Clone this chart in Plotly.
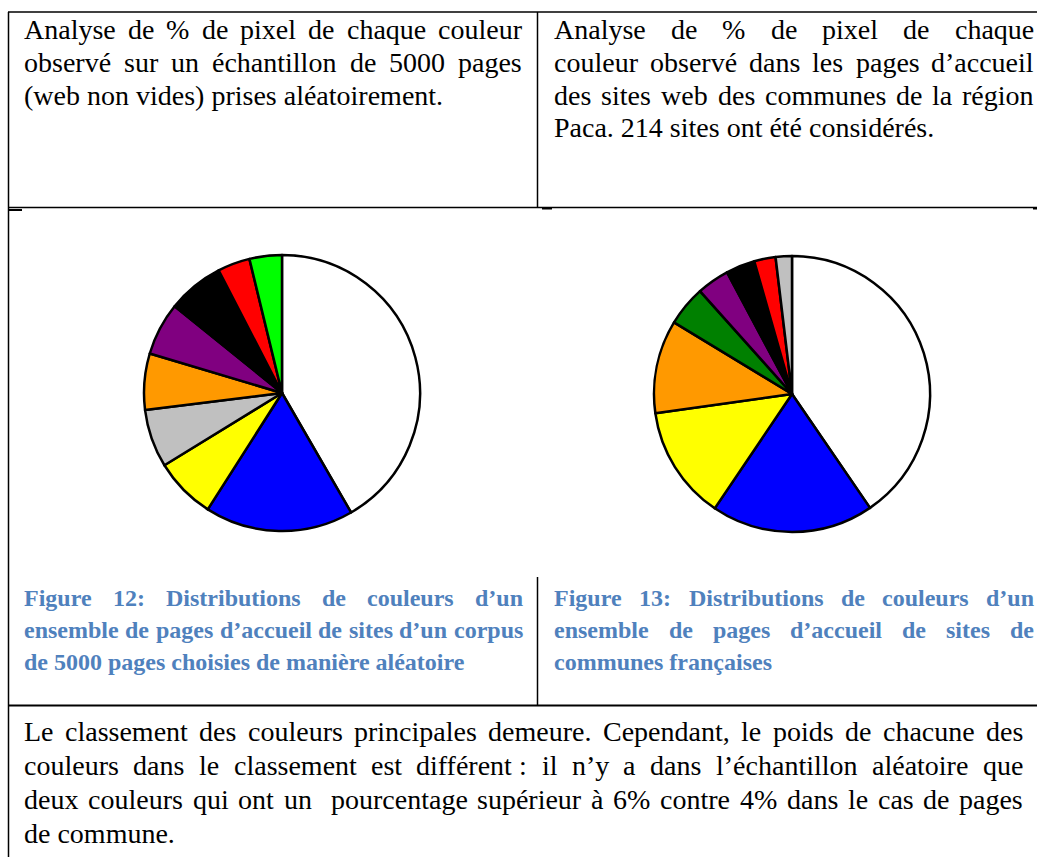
import plotly.graph_objects as go

W, H = 1037, 857

# -----------------------------------------------------------
# données : % de pixels par couleur (lu sur les camemberts)
# -----------------------------------------------------------

couleurs_1 = ["blanc", "bleu", "jaune", "gris", "orange", "violet", "noir", "rouge", "vert"]
valeurs_1 = [41.7, 17.4, 7.2, 6.8, 6.6, 6.2, 6.6, 3.8, 3.8]
teintes_1 = ["#ffffff", "#0000ff", "#ffff00", "#c0c0c0", "#ff9900",
             "#800080", "#000000", "#ff0000", "#00ff00"]

couleurs_2 = ["blanc", "bleu", "jaune", "orange", "vert", "violet", "noir", "rouge", "gris"]
valeurs_2 = [40.4, 19.0, 13.3, 10.9, 4.7, 3.8, 3.4, 2.5, 1.9]
teintes_2 = ["#ffffff", "#0000ff", "#ffff00", "#ff9900", "#008000",
             "#800080", "#000000", "#ff0000", "#c0c0c0"]

texte_gauche = [
    "Analyse de % de pixel de chaque couleur",
    "observé sur un échantillon de 5000 pages",
    "(web non vides) prises aléatoirement.",
]
texte_droite = [
    "Analyse de % de pixel de chaque",
    "couleur observé dans les pages d’accueil",
    "des sites web des communes de la région",
    "Paca. 214 sites ont été considérés.",
]
legende_gauche = [
    "Figure 12: Distributions de couleurs d’un",
    "ensemble de pages d’accueil de sites d’un corpus",
    "de 5000 pages choisies de manière aléatoire",
]
legende_droite = [
    "Figure 13: Distributions de couleurs d’un",
    "ensemble de pages d’accueil de sites de",
    "communes françaises",
]
texte_bas = [
    "Le classement des couleurs principales demeure. Cependant, le poids de chacune des",
    "couleurs dans le classement est différent\u00a0: il n’y a dans l’échantillon aléatoire que",
    "deux couleurs qui ont un  pourcentage supérieur à 6% contre 4% dans le cas de pages",
    "de commune.",
]

# -----------------------------------------------------------
# chasses Times (1/1000 em) pour justifier le texte mot à mot
# -----------------------------------------------------------

TIMES_R = dict(zip("abcdefghijklmnopqrstuvwxyz",
                   [444, 500, 444, 500, 444, 333, 500, 500, 278, 278, 500, 278, 778,
                    500, 500, 500, 500, 333, 389, 278, 500, 500, 722, 500, 500, 444]))
TIMES_R.update(dict(zip("ABCDEFGHIJKLMNOPQRSTUVWXYZ",
                        [722, 667, 667, 722, 611, 556, 722, 722, 333, 389, 722, 611, 889,
                         722, 722, 556, 722, 667, 556, 611, 722, 722, 944, 722, 722, 611])))
TIMES_R.update({" ": 250, "\u00a0": 250, "%": 833, "(": 333, ")": 333, ".": 250, ",": 250,
                ":": 278, "’": 333, "é": 444, "è": 444, "à": 444, "ç": 444})
for d in "0123456789":
    TIMES_R[d] = 500

TIMES_B = dict(zip("abcdefghijklmnopqrstuvwxyz",
                   [500, 556, 444, 556, 444, 333, 500, 556, 278, 333, 556, 278, 833,
                    556, 500, 556, 556, 444, 389, 333, 556, 500, 722, 500, 500, 444]))
TIMES_B.update(dict(zip("ABCDEFGHIJKLMNOPQRSTUVWXYZ",
                        [722, 667, 722, 722, 667, 611, 778, 778, 389, 500, 778, 667, 944,
                         722, 778, 611, 778, 722, 556, 667, 722, 722, 1000, 722, 722, 667])))
TIMES_B.update({" ": 250, "\u00a0": 250, "%": 1000, "(": 333, ")": 333, ".": 250, ",": 250,
                ":": 333, "’": 333, "é": 444, "è": 444, "à": 444, "ç": 444})
for d in "0123456789":
    TIMES_B[d] = 500

POLICE = "Liberation Serif, Times New Roman, serif"


def px(x):
    return x / W


def py(y):
    return 1 - y / H


def largeur(mot, gras, taille):
    table = TIMES_B if gras else TIMES_R
    return sum(table.get(c, 500) for c in mot) * taille / 1000


def mot(fig, texte, x, centre, taille, gras, couleur):
    if gras:
        texte = "<b>" + texte + "</b>"
    fig.add_annotation(
        x=px(x - 1), y=py(centre),
        xref="paper", yref="paper", xanchor="left", yanchor="middle",
        text=texte, showarrow=False,
        font=dict(family=POLICE, size=taille, color=couleur)
    )


def paragraphe(fig, lignes, x0, x1, centre0, pas, taille, gras=False, couleur="black"):
    for i, ligne in enumerate(lignes):
        centre = centre0 + i * pas
        if i == len(lignes) - 1:
            mot(fig, ligne, x0, centre, taille, gras, couleur)
            continue
        mots = ligne.split(" ")
        total = sum(largeur(m, gras, taille) for m in mots)
        ecart = (x1 - x0 - total) / (len(mots) - 1)
        x = x0
        for m in mots:
            if m:
                mot(fig, m, x, centre, taille, gras, couleur)
            x += largeur(m, gras, taille) + ecart


# -----------------------------------------------------------
# figure
# -----------------------------------------------------------

fig = go.Figure()


def camembert(valeurs, noms, teintes, cx, cy, r):
    fig.add_trace(go.Pie(
        values=valeurs, labels=noms,
        marker=dict(colors=teintes, line=dict(color="black", width=2.5)),
        sort=False, direction="clockwise", rotation=0,
        textinfo="none", showlegend=False, hoverinfo="label+percent",
        domain=dict(x=[px(cx - r), px(cx + r)], y=[py(cy + r), py(cy - r)])
    ))


camembert(valeurs_1, couleurs_1, teintes_1, 282, 393, 138)
camembert(valeurs_2, couleurs_2, teintes_2, 792, 394, 138)

# lignes du tableau
traits = [
    (8, 12, 1037, 12, 1.5),
    (8.5, 12, 8.5, 857, 1.5),
    (537.5, 12, 537.5, 207, 1.5),
    (8, 207.5, 1037, 207.5, 1.5),
    (537.5, 577, 537.5, 705, 1.5),
    (8, 705.5, 1037, 705.5, 2),
    (8, 210, 22, 210, 2),
    (542, 208.5, 552, 208.5, 2),
    (1033, 208.5, 1037, 208.5, 2),
]
for x0, y0, x1, y1, w in traits:
    fig.add_shape(type="line", xref="paper", yref="paper",
                  x0=px(x0), y0=py(y0), x1=px(x1), y1=py(y1),
                  line=dict(color="black", width=w))

paragraphe(fig, texte_gauche, 23, 521, 30, 32.5, 28)
paragraphe(fig, texte_droite, 553, 1033, 30, 32.5, 28)
paragraphe(fig, legende_gauche, 23, 522, 598, 32, 24, gras=True, couleur="#4f81bd")
paragraphe(fig, legende_droite, 553, 1033, 598, 32, 24, gras=True, couleur="#4f81bd")
paragraphe(fig, texte_bas, 23, 1022, 731, 34, 28)

fig.update_layout(
    width=W, height=H,
    margin=dict(l=0, r=0, t=0, b=0),
    paper_bgcolor="white", plot_bgcolor="white",
)

# la page html ajoute une marge de 8 px par défaut : on la retire
fig.write_html("out.html", config={"displayModeBar": False}, post_script=(
    "document.body.style.margin='0';"
    "document.documentElement.style.overflow='hidden';"
))
